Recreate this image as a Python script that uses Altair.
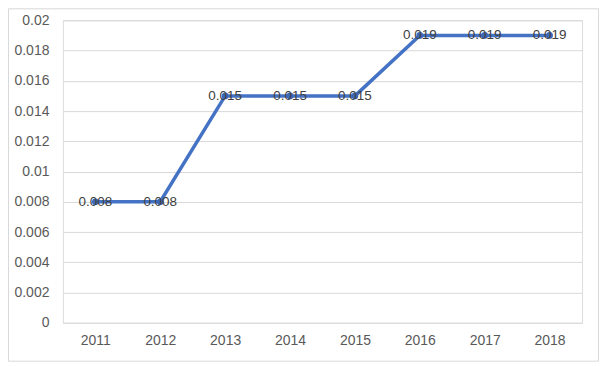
import altair as alt
import pandas as pd

years = ["2011", "2012", "2013", "2014", "2015", "2016", "2017", "2018"]
values = [0.008, 0.008, 0.015, 0.015, 0.015, 0.019, 0.019, 0.019]
y_ticks = [0, 0.002, 0.004, 0.006, 0.008, 0.01, 0.012, 0.014, 0.016, 0.018, 0.02]

df = pd.DataFrame({"year": years, "value": values})

FONT = "Liberation Sans"
BLUE = "#4472C4"

x_enc = alt.X("year:O", scale=alt.Scale(type="point", padding=0.5),
              axis=alt.Axis(title=None, labelAngle=0, ticks=False, domain=False,
                            labelPadding=11, labelFontSize=14, labelColor="#595959",
                            labelFont=FONT))
y_enc = alt.Y("value:Q", scale=alt.Scale(domain=[0, 0.02], nice=False),
              axis=alt.Axis(title=None, values=y_ticks, tickCount=20, format="~g", ticks=False,
                            domain=False, labelPadding=14, labelFontSize=14,
                            labelColor="#595959", labelFont=FONT, labelOverlap=False,
                            grid=True, gridColor="#D9D9D9", gridWidth=1))

base = alt.Chart(df)

border = base.mark_rect(filled=False, stroke="#D9D9D9", strokeWidth=1, clip=False).encode(
    x=alt.value(-54.5), x2=alt.value(536.5), y=alt.value(-11.5), y2=alt.value(341.5)
).transform_filter("datum.year == '2011'")

line = base.mark_line(color=BLUE, strokeWidth=3.5).encode(x=x_enc, y=y_enc)
points = base.mark_point(filled=True, shape="circle", size=45, color="#3E68B5", opacity=1).encode(
    x="year:O", y="value:Q")
labels = base.mark_text(fontSize=13.5, color="#404040", font=FONT, align="center",
                        baseline="middle").encode(
    x="year:O", y="value:Q", text=alt.Text("value:Q", format=".3f"))

chart = alt.layer(border, line, points, labels).properties(
    width=520, height=303,
    autosize=alt.AutoSizeParams(type="none"),
    padding={"left": 55, "top": 12, "right": 17, "bottom": 39},
).configure_view(stroke=None).configure(background="white")

chart.save("out.html", embed_options={"renderer": "svg", "actions": False})
